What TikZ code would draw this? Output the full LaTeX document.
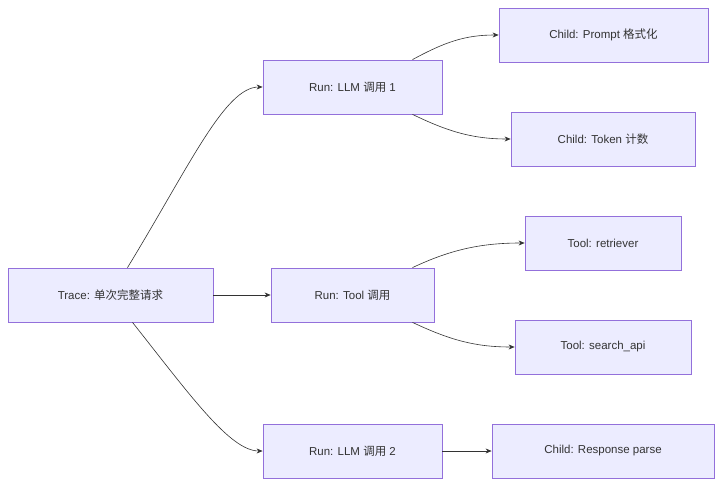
\documentclass[tikz,border=0pt]{standalone}
\usepackage{fontspec}
\setmainfont{Liberation Sans}
\newfontfamily\cjk{Noto Sans CJK SC}
\usetikzlibrary{arrows.meta,calc}
\definecolor{nfill}{HTML}{ECECFF}
\definecolor{nedge}{HTML}{9370DB}
\definecolor{txt}{HTML}{333333}
\tikzset{
  box/.style={draw=nedge,fill=nfill,line width=0.8pt,text=txt,font=\fontsize{11.5}{14}\selectfont,inner sep=0pt,anchor=center},
  conn/.style={draw=txt,line width=0.6pt,-{Stealth[length=6pt,width=5pt]}}
}
\begin{document}
\begin{tikzpicture}[x=1pt,y=-1pt]
\useasboundingbox (0,0) rectangle (722,486);
\node[box,minimum width=205,minimum height=54] (trace) at (110.5,295) {Trace: {\cjk 单次完整请求}};
\node[box,minimum width=179,minimum height=54] (llm1) at (352.5,87) {Run: LLM {\cjk 调用} 1};
\node[box,minimum width=163,minimum height=54] (tool) at (352.5,295) {Run: Tool {\cjk 调用}};
\node[box,minimum width=179,minimum height=54] (llm2) at (352.5,451) {Run: LLM {\cjk 调用} 2};
\node[box,minimum width=209,minimum height=54] (prompt) at (603.5,35) {Child: Prompt {\cjk 格式化}};
\node[box,minimum width=184,minimum height=54] (token) at (603,139) {Child: Token {\cjk 计数}};
\node[box,minimum width=156,minimum height=54] (retr) at (603,243) {Tool: retriever};
\node[box,minimum width=176,minimum height=54] (search) at (603,347) {Tool: search\_api};
\node[box,minimum width=222,minimum height=54] (resp) at (603,451) {Child: Response parse};

\draw[conn] ($(trace.north)+(17,0)$) .. controls (190,165) and (225,87) .. (llm1.west);
\draw[conn] ($(trace.south)+(22,0)$) .. controls (190,395) and (230,451) .. (llm2.west);
\draw[conn] (trace.east) -- (tool.west);
\draw[conn] (llm2.east) -- (resp.west);
\draw[conn] ($(llm1.north)+(60,0)$) .. controls (445,42) and (465,35) .. (prompt.west);
\draw[conn] ($(llm1.south)+(60,0)$) .. controls (445,130) and (470,139) .. (token.west);
\draw[conn] ($(tool.north)+(60,0)$) .. controls (450,250) and (480,243) .. (retr.west);
\draw[conn] ($(tool.south)+(60,0)$) .. controls (450,340) and (475,347) .. (search.west);
\end{tikzpicture}
\end{document}
